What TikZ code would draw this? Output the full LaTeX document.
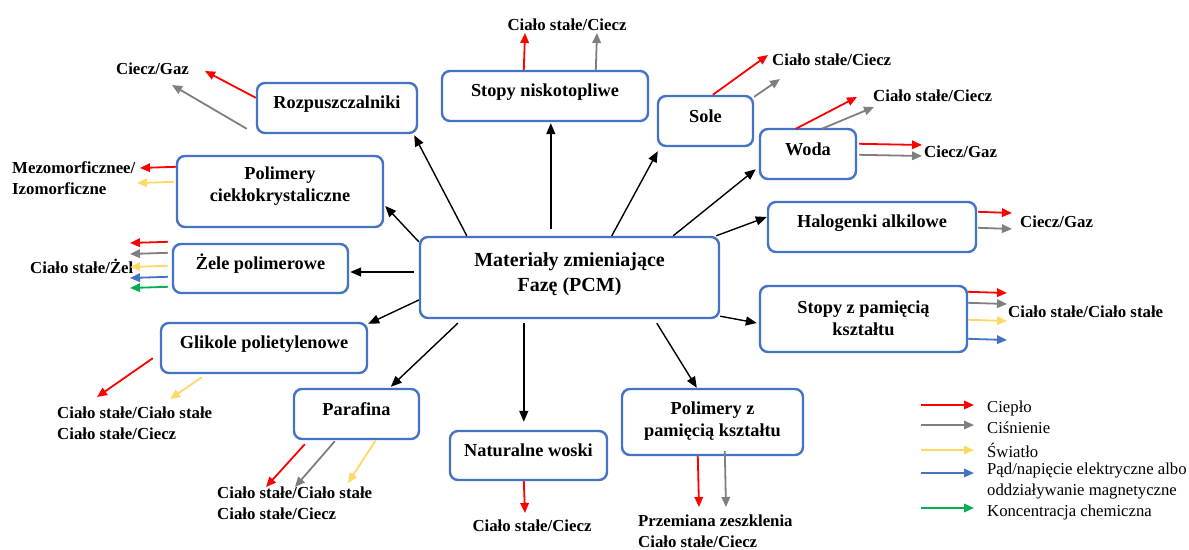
\documentclass[tikz,border=0pt]{standalone}
\usepackage{fontspec}
\setmainfont{Liberation Serif}
\usetikzlibrary{arrows.meta,calc}
\definecolor{boxblue}{HTML}{4472C4}
\definecolor{myred}{HTML}{FF0000}
\definecolor{mygray}{HTML}{7F7F7F}
\definecolor{myyellow}{HTML}{FFD966}
\definecolor{myblue}{HTML}{4472C4}
\definecolor{mygreen}{HTML}{00B050}
\tikzset{
 box/.style={draw=boxblue, line width=2.4pt, rounded corners=8pt, inner sep=0pt, fill=white},
 btxt/.style={font=\bfseries\fontsize{18.3}{22}\selectfont, align=center, inner sep=0pt},
 mtxt/.style={font=\bfseries\fontsize{20}{25}\selectfont, align=center, inner sep=0pt},
 ltxt/.style={font=\bfseries\fontsize{16.8}{21}\selectfont, align=left, inner sep=0pt},
 legtxt/.style={font=\fontsize{16.7}{21}\selectfont, align=left, inner sep=0pt, anchor=west},
 blk/.style={-{Triangle[length=11pt,width=9pt]}, line width=1.4pt, black},
 carr/.style={-{Triangle[length=10pt,width=8.5pt]}, line width=1.8pt},
 cr/.style={carr, myred},
 cg/.style={carr, mygray},
 cy/.style={carr, myyellow},
 cb/.style={carr, myblue},
 cgr/.style={carr, mygreen},
}
\begin{document}
\begin{tikzpicture}[x=1pt,y=-1pt]
\useasboundingbox (0,0) rectangle (1189,549);
% boxes
\node[box, minimum width=299pt, minimum height=81pt] (main) at (569.5,277.5) {};
\node[box, minimum width=160pt, minimum height=50pt] (roz) at (337,108) {};
\node[box, minimum width=206pt, minimum height=71pt] (plc) at (280,191.5) {};
\node[box, minimum width=175pt, minimum height=49pt] (zel) at (260.5,268.5) {};
\node[box, minimum width=206pt, minimum height=50pt] (gli) at (264,348) {};
\node[box, minimum width=125pt, minimum height=50pt] (par) at (356.5,414) {};
\node[box, minimum width=206pt, minimum height=50pt] (sni) at (545,96) {};
\node[box, minimum width=95pt, minimum height=50pt] (sole) at (705.5,121) {};
\node[box, minimum width=96pt, minimum height=50pt] (woda) at (808,154) {};
\node[box, minimum width=208pt, minimum height=50pt] (hal) at (872,227) {};
\node[box, minimum width=207pt, minimum height=66pt] (szp) at (863.5,319) {};
\node[box, minimum width=157pt, minimum height=49pt] (nw) at (528.5,455.5) {};
\node[box, minimum width=181pt, minimum height=66pt] (pzp) at (712.5,422) {};
% box texts
\node[mtxt] (mainT) at (569.5,274) {Materiały zmieniające\\Fazę (PCM)};
\node[btxt] (rozT) at (337,104) {Rozpuszczalniki};
\node[btxt] (plcT) at (280,186) {Polimery\\ciekłokrystaliczne};
\node[btxt] (zelT) at (260.5,264) {Żele polimerowe};
\node[btxt] (gliT) at (264,344) {Glikole polietylenowe};
\node[btxt] (parT) at (356.5,409) {Parafina};
\node[btxt] (sniT) at (545,92) {Stopy niskotopliwe};
\node[btxt] (soleT) at (705.5,116) {Sole};
\node[btxt] (wodaT) at (808,149) {Woda};
\node[btxt] (halT) at (872,223) {Halogenki alkilowe};
\node[btxt] (szpT) at (863.5,318) {Stopy z pamięcią\\kształtu};
\node[btxt] (nwT) at (528.5,450) {Naturalne woski};
\node[btxt] (pzpT) at (712.5,421) {Polimery z\\pamięcią kształtu};
% black arrows
\draw[blk] ($(main.north west)+(48,0)$) -- ($(roz.south east)+(-4,1)$);
\draw[blk] ($(main.north west)+(0,6)$) -- ($(plc.east)+(1,14.5)$);
\draw[blk] ($(main.west)+(-5,-5.5)$) -- ($(zel.east)+(1,3.5)$);
\draw[blk] ($(main.west)+(0,22.5)$) -- ($(gli.north east)+(0,2)$);
\draw[blk] ($(main.south west)+(39,4)$) -- ($(par.north west)+(98,-1)$);
\draw[blk] ($(main.south west)+(105,4)$) -- ($(nw.north west)+(75,-8)$);
\draw[blk] ($(main.south west)+(238,4)$) -- ($(pzp.north west)+(76,0)$);
\draw[blk] ($(main.south east)+(0,-3)$) -- ($(szp.west)+(-2,4)$);
\draw[blk] ($(main.north east)+(-4,0)$) -- ($(hal.west)+(0,-10)$);
\draw[blk] ($(main.north east)+(-47,0)$) -- ($(woda.south west)+(-3,-11)$);
\draw[blk] ($(main.north west)+(193,0)$) -- ($(sole.south west)+(1,4)$);
\draw[blk] ($(main.north west)+(132,-7)$) -- ($(sni.south west)+(110,1)$);
% coloured arrows: Stopy niskotopliwe
\coordinate (sniR) at (525,33);
\coordinate (sniG) at (597,33);
\draw[cr] ($(sni.north west)+(83,0)$) -- (sniR);
\draw[cg] ($(sni.north west)+(155,0)$) -- (sniG);
\node[ltxt] (sniL) at (567,25) {Ciało stałe/Ciecz};
% Sole
\coordinate (soleR) at (768,55);
\coordinate (soleG) at (780,79);
\draw[cr] ($(sole.north west)+(56,0)$) -- (soleR);
\draw[cg] ($(sole.north east)+(0,2)$) -- (soleG);
\node[ltxt, anchor=west] (soleL) at (772,60) {Ciało stałe/Ciecz};
% Woda
\coordinate (wodaR1) at (857,97);
\coordinate (wodaG1) at (874,107);
\coordinate (wodaR2) at (922,145);
\coordinate (wodaG2) at (922,156);
\draw[cr] ($(woda.north west)+(37,1)$) -- (wodaR1);
\draw[cg] ($(woda.north west)+(63,1)$) -- (wodaG1);
\draw[cr] ($(woda.north east)+(2,16)$) -- (wodaR2);
\draw[cg] ($(woda.north east)+(2,27)$) -- (wodaG2);
\node[ltxt, anchor=west] (wodaL1) at (873,96) {Ciało stałe/Ciecz};
\node[ltxt, anchor=west] (wodaL2) at (924,152) {Ciecz/Gaz};
% Halogenki
\coordinate (halR) at (1012,213);
\coordinate (halG) at (1012,229);
\draw[cr] ($(hal.north east)+(1,11)$) -- (halR);
\draw[cg] ($(hal.north east)+(1,27)$) -- (halG);
\node[ltxt, anchor=west] (halL) at (1020,222) {Ciecz/Gaz};
% Stopy z pamięcią kształtu
\coordinate (szpR) at (1007,293);
\coordinate (szpG) at (1007,304);
\coordinate (szpY) at (1007,321);
\coordinate (szpB) at (1007,340);
\draw[cr] ($(szp.north east)+(0,7)$) -- (szpR);
\draw[cg] ($(szp.north east)+(0,18)$) -- (szpG);
\draw[cy] ($(szp.north east)+(0,35)$) -- (szpY);
\draw[cb] ($(szp.north east)+(0,54)$) -- (szpB);
\node[ltxt, anchor=west] (szpL) at (1008,312) {Ciało stałe/Ciało stałe};
% Polimery z pamięcią kształtu
\coordinate (pzpR) at (699,507);
\coordinate (pzpG) at (726,507);
\draw[cr] ($(pzp.south west)+(77,0)$) -- (pzpR);
\draw[cg] ($(pzp.south west)+(104,-5)$) -- (pzpG);
\node[ltxt, anchor=west] (pzpL) at (638,531.5) {Przemiana zeszklenia\\Ciało stałe/Ciecz};
% Naturalne woski
\coordinate (nwR) at (525,513);
\draw[cr] ($(nw.south west)+(75,0)$) -- (nwR);
\node[ltxt] (nwL) at (532,526) {Ciało stałe/Ciecz};
% Parafina
\coordinate (parR) at (266,487);
\coordinate (parG) at (295,487);
\coordinate (parY) at (348,483);
\draw[cr] ($(par.south west)+(12,4)$) -- (parR);
\draw[cg] ($(par.south west)+(42,1)$) -- (parG);
\draw[cy] ($(par.south west)+(83,0)$) -- (parY);
\node[ltxt, anchor=west] (parL) at (217,503.5) {Ciało stałe/Ciało stałe\\Ciało stałe/Ciecz};
% Glikole
\coordinate (gliR) at (97,397);
\coordinate (gliY) at (170,399);
\draw[cr] ($(gli.south west)+(-7,-16)$) -- (gliR);
\draw[cy] ($(gli.south west)+(42,3)$) -- (gliY);
\node[ltxt, anchor=west] (gliL) at (57,423.5) {Ciało stałe/Ciało stałe\\Ciało stałe/Ciecz};
% Zele
\node[ltxt, anchor=west] (zelL) at (30,266) {Ciało stałe/Żel};
\coordinate (zelR) at (130,243);
\coordinate (zelG) at (130,254);
\coordinate (zelY) at (130,267);
\coordinate (zelB) at (130,278);
\coordinate (zelGr) at (130,288);
\draw[cr] ($(zel.north west)+(-4,-1)$) -- (zelR);
\draw[cg] ($(zel.north west)+(-4,10)$) -- (zelG);
\draw[cy] ($(zel.north west)+(-4,23)$) -- (zelY);
\draw[cb] ($(zel.north west)+(-4,34)$) -- (zelB);
\draw[cgr] ($(zel.north west)+(-4,44)$) -- (zelGr);
% Polimery cieklokrystaliczne
\coordinate (plcR) at (140,168);
\coordinate (plcY) at (137,183);
\draw[cr] ($(plc.north west)+(0,12)$) -- (plcR);
\draw[cy] ($(plc.north west)+(-2,27)$) -- (plcY);
\node[ltxt, anchor=west] (plcL) at (12,178.5) {Mezomorficznee/\\Izomorficzne};
% Rozpuszczalniki
\coordinate (rozR) at (205,71);
\coordinate (rozG) at (172,85);
\draw[cr] ($(roz.north west)+(0,16)$) -- (rozR);
\draw[cg] ($(roz.north west)+(-9,47)$) -- (rozG);
\node[ltxt] (rozL) at (152.5,69) {Ciecz/Gaz};
% legend
\coordinate (la1) at (921,405); \coordinate (lb1) at (974,405);
\coordinate (la2) at (921,425); \coordinate (lb2) at (974,425);
\coordinate (la3) at (921,450); \coordinate (lb3) at (974,450);
\coordinate (la4) at (921,473); \coordinate (lb4) at (974,473);
\coordinate (la5) at (921,508); \coordinate (lb5) at (974,508);
\draw[cr] (la1) -- (lb1);
\draw[cg] (la2) -- (lb2);
\draw[cy] (la3) -- (lb3);
\draw[cb] (la4) -- (lb4);
\draw[cgr] (la5) -- (lb5);
\node[legtxt] (lt1) at (987,408) {Ciepło};
\node[legtxt] (lt2) at (987,428) {Ciśnienie};
\node[legtxt] (lt3) at (987,450) {Światło};
\node[legtxt] (lt4) at (987,481.5) {Pąd/napięcie elektryczne albo\\oddziaływanie magnetyczne};
\node[legtxt] (lt5) at (987,512) {Koncentracja chemiczna};
\end{tikzpicture}
\end{document}
